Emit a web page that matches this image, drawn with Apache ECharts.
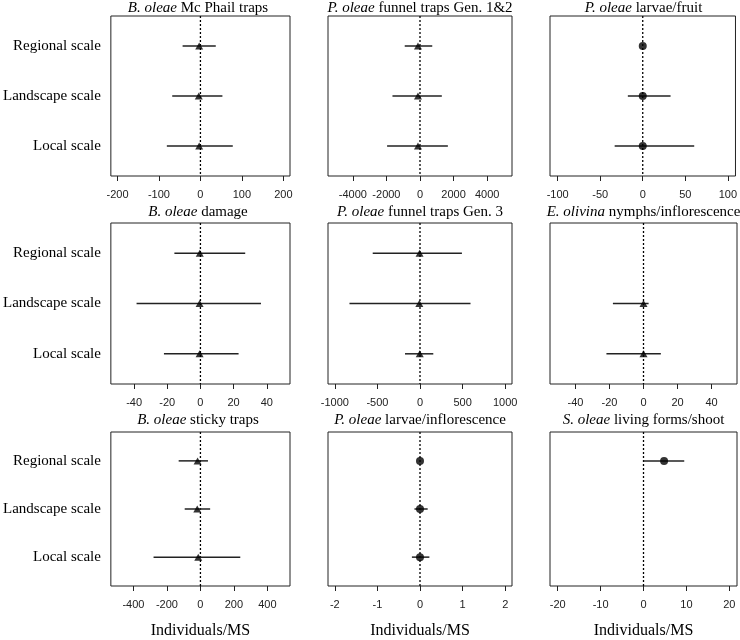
<!DOCTYPE html>
<html>
<head>
<meta charset="utf-8">
<script src="https://cdn.jsdelivr.net/npm/echarts@6/dist/echarts.min.js"></script>
<style>html,body{margin:0;padding:0;background:#fff;}#chart{width:740px;height:640px;}</style>
</head>
<body>
<div id="chart"></div>
<script>
// ---- Data ----
const scales = ['Regional scale', 'Landscape scale', 'Local scale'];

const titleItalic = ['B. oleae', 'P. oleae', 'P. oleae', 'B. oleae', 'P. oleae', 'E. olivina', 'B. oleae', 'P. oleae', 'S. oleae'];
const titleRest = [' Mc Phail traps', ' funnel traps Gen. 1&2', ' larvae/fruit', ' damage', ' funnel traps Gen. 3', ' nymphs/inflorescence', ' sticky traps', ' larvae/inflorescence', ' living forms/shoot'];

// estimates, lower and upper CI (Regional, Landscape, Local)
const mcphailEst = [-3, -4, -3];
const mcphailLo = [-43, -68, -81];
const mcphailHi = [37, 53, 78];

const funnel12Est = [-120, -120, -120];
const funnel12Lo = [-910, -1640, -1960];
const funnel12Hi = [730, 1300, 1660];

const larvaeFruitEst = [0, 0, 0];
const larvaeFruitLo = [0, -17.5, -33];
const larvaeFruitHi = [0, 32.7, 60.5];

const damageEst = [-0.4, -0.5, -0.5];
const damageLo = [-15.7, -38.5, -22];
const damageHi = [27, 36.5, 23];

const funnel3Est = [-5, -8, -3];
const funnel3Lo = [-555, -828, -176];
const funnel3Hi = [492, 593, 156];

const olivinaEst = [null, 0, 0];
const olivinaLo = [null, -18, -21.8];
const olivinaHi = [null, 3, 10.2];

const stickyEst = [-17, -19, -13];
const stickyLo = [-130, -94, -280];
const stickyHi = [45, 58, 238];

const larvaeInflEst = [0, 0, 0];
const larvaeInflLo = [0, -0.13, -0.19];
const larvaeInflHi = [0, 0.18, 0.22];

const sOleaeEst = [4.8, null, null];
const sOleaeLo = [0, null, null];
const sOleaeHi = [9.5, null, null];

// tick labels
const ticks1 = [-200, -100, 0, 100, 200];
const ticks2 = [-4000, -2000, 0, 2000, 4000];
const ticks3 = [-100, -50, 0, 50, 100];
const ticks4 = [-40, -20, 0, 20, 40];
const ticks5 = [-1000, -500, 0, 500, 1000];
const ticks6 = [-40, -20, 0, 20, 40];
const ticks7 = [-400, -200, 0, 200, 400];
const ticks8 = [-2, -1, 0, 1, 2];
const ticks9 = [-20, -10, 0, 10, 20];

// axis half ranges
const ranges = [216, 5480, 109, 54, 1080, 55, 535, 2.16, 21.8];
const xName = 'Individuals/MS';

const panels = [
  {est: mcphailEst, lo: mcphailLo, hi: mcphailHi, ticks: ticks1, sym: 'triangle'},
  {est: funnel12Est, lo: funnel12Lo, hi: funnel12Hi, ticks: ticks2, sym: 'triangle'},
  {est: larvaeFruitEst, lo: larvaeFruitLo, hi: larvaeFruitHi, ticks: ticks3, sym: 'circle'},
  {est: damageEst, lo: damageLo, hi: damageHi, ticks: ticks4, sym: 'triangle'},
  {est: funnel3Est, lo: funnel3Lo, hi: funnel3Hi, ticks: ticks5, sym: 'triangle'},
  {est: olivinaEst, lo: olivinaLo, hi: olivinaHi, ticks: ticks6, sym: 'triangle'},
  {est: stickyEst, lo: stickyLo, hi: stickyHi, ticks: ticks7, sym: 'triangle'},
  {est: larvaeInflEst, lo: larvaeInflLo, hi: larvaeInflHi, ticks: ticks8, sym: 'circle'},
  {est: sOleaeEst, lo: sOleaeLo, hi: sOleaeHi, ticks: ticks9, sym: 'circle'}
];

// ---- Layout ----
const colLeft = [106, 328, 550];
const colWidth = [184, 184, 187];
const rowTop = [16, 223, 432];
const rowHeight = [160, 161, 161];
const titleY = [8, 212, 420];

const grids = [], xAxes = [], yAxes = [], series = [], graphics = [];

panels.forEach((p, i) => {
  const col = i % 3, row = Math.floor(i / 3);
  grids.push({
    left: colLeft[col], top: rowTop[row], width: colWidth[col], height: rowHeight[row],
    show: true, borderColor: '#222', borderWidth: 1, backgroundColor: 'transparent'
  });
  xAxes.push({
    gridIndex: i, type: 'value', min: -ranges[i], max: ranges[i],
    name: row === 2 ? xName : '', nameLocation: 'middle', nameGap: 37,
    nameTextStyle: {fontFamily: 'Liberation Serif', fontSize: 16, color: '#000'},
    axisLine: {show: false}, splitLine: {show: false},
    axisTick: {show: true, length: 5, lineStyle: {color: '#222', width: 1}, customValues: p.ticks},
    axisLabel: {customValues: p.ticks, margin: 13, fontFamily: 'Liberation Sans', fontSize: 11, color: '#222',
      formatter: v => String(v)}
  });
  yAxes.push({
    gridIndex: i, type: 'value', min: 0.4, max: 3.6, inverse: true,
    axisLine: {show: false}, axisTick: {show: false}, splitLine: {show: false},
    axisLabel: col === 0 ? {
      customValues: [1, 2, 3], formatter: v => scales[Math.round(v) - 1],
      fontFamily: 'Liberation Serif', fontSize: 15, color: '#000', margin: 10
    } : {show: false}
  });
  const errData = [], ptData = [];
  for (let k = 0; k < 3; k++) {
    if (p.lo[k] !== null) errData.push([p.lo[k], p.hi[k], k + 1]);
    if (p.est[k] !== null) ptData.push([p.est[k], k + 1]);
  }
  series.push({
    type: 'line', xAxisIndex: i, yAxisIndex: i, data: [[0, 0.4], [0, 3.6]],
    symbol: 'none', silent: true, lineStyle: {color: '#000', width: 1.3, type: [2, 2]}, z: 1
  });
  series.push({
    type: 'custom', xAxisIndex: i, yAxisIndex: i, data: errData,
    encode: {x: [0, 1], y: 2},
    renderItem: (params, api) => {
      const a = api.coord([api.value(0), api.value(2)]);
      const b = api.coord([api.value(1), api.value(2)]);
      return {type: 'line', shape: {x1: a[0], y1: a[1], x2: b[0], y2: b[1]},
        style: {stroke: '#222', lineWidth: 1.5}};
    }, z: 2
  });
  series.push({
    type: 'scatter', xAxisIndex: i, yAxisIndex: i, data: ptData,
    symbol: p.sym, symbolSize: p.sym === 'triangle' ? [8, 7] : 8,
    itemStyle: {color: '#000'}, z: 3
  });
  graphics.push({
    type: 'text', x: colLeft[col] + colWidth[col] / 2, y: titleY[row],
    style: {
      text: '{i|' + titleItalic[i] + '}{n|' + titleRest[i] + '}',
      textAlign: 'center', textVerticalAlign: 'middle', fill: '#000',
      rich: {
        i: {fontFamily: 'Liberation Serif', fontSize: 15, fontStyle: 'italic', fill: '#000'},
        n: {fontFamily: 'Liberation Serif', fontSize: 15, fill: '#000'}
      }
    }
  });
});

const chart = echarts.init(document.getElementById('chart'));
chart.setOption({
  animation: false,
  backgroundColor: '#fff',
  grid: grids, xAxis: xAxes, yAxis: yAxes, series: series, graphic: graphics
});
</script>
</body>
</html>
